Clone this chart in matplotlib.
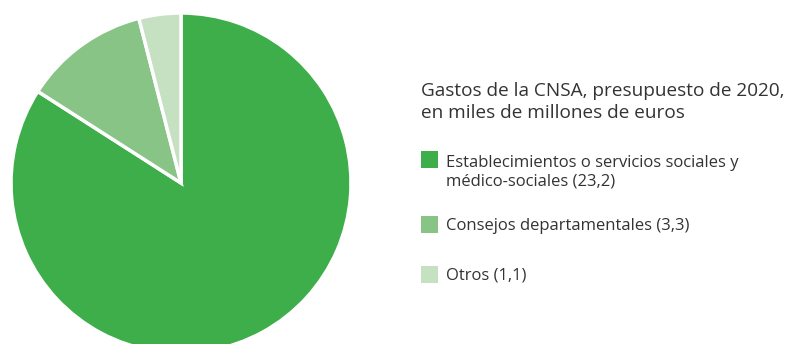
import matplotlib.pyplot as plt
from matplotlib.patches import Rectangle

# Gastos de la CNSA 2020 (miles de millones de euros)
categorias = ["Establecimientos o servicios sociales y\nmédico-sociales (23,2)",
              "Consejos departamentales (3,3)",
              "Otros (1,1)"]
valores = [23.2, 3.3, 1.1]
colores = ["#3dae4a", "#88c485", "#c6e1c2"]
titulo = "Gastos de la CNSA, presupuesto de 2020,\nen miles de millones de euros"

W, H = 786, 344
fig = plt.figure(figsize=(W / 100, H / 100), dpi=100)
plt.rcParams['font.family'] = ['Open Sans', 'DejaVu Sans']
texto = "#333333"


def fx(x):
    return x / W


def fy(y):
    return 1 - y / H


# pie: centre (181, 183), radius ~170 px
cx, cy, r = 181, 183, 170
ax = fig.add_axes([fx(cx - r), fy(cy + r), 2 * r / W, 2 * r / H])
ax.pie(valores, colors=colores, startangle=90, counterclock=False, radius=1,
       wedgeprops=dict(edgecolor="white", linewidth=2.5))
ax.set_xlim(-1, 1)
ax.set_ylim(-1, 1)
ax.axis("off")

fig.text(fx(421), fy(102), titulo, fontsize=13.7, color=texto,
         ha="left", va="center", linespacing=1.25)

# legend
filas = [160, 225, 275]
for cat, col, y in zip(categorias, colores, filas):
    fig.patches.append(Rectangle((fx(421), fy(y + 8)), 17 / W, 17 / H,
                                 transform=fig.transFigure, facecolor=col,
                                 edgecolor="none"))
    n = cat.count("\n")
    fig.text(fx(446), fy(y + 1 + n * 11), cat, fontsize=12, color=texto,
             ha="left", va="center", linespacing=1.2)

fig.savefig("out.png", dpi=100)
